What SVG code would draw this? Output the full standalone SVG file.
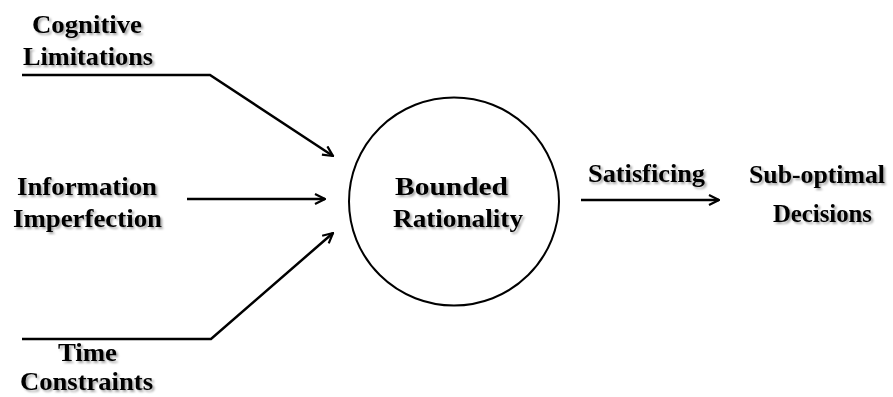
<svg xmlns="http://www.w3.org/2000/svg" width="893" height="397" viewBox="0 0 893 397">
<style>
.t{font-family:"Liberation Serif","Times New Roman",serif;font-weight:bold;font-size:26px;fill:#000;filter:url(#sh)}
.c{fill:none;stroke:#000;stroke-width:2.5}
</style>
<defs>
<filter id="sh" x="-10%" y="-30%" width="130%" height="180%">
<feDropShadow dx="2" dy="2" stdDeviation="1.2" flood-color="#000" flood-opacity="0.35"/>
</filter>
<marker id="ah" viewBox="0 0 12 12" refX="11" refY="6" markerWidth="12" markerHeight="12" markerUnits="userSpaceOnUse" orient="auto">
<path d="M1,1 L11,6 L1,11" fill="none" stroke="#000" stroke-width="2.2"/>
</marker>
</defs>
<rect width="893" height="397" fill="#fff"/>
<g id="connectors">
<path class="c" d="M22,75 L210,75 L333,156" marker-end="url(#ah)"/>
<path class="c" d="M187,199 L325,199" marker-end="url(#ah)"/>
<path class="c" d="M22,339 L211,339 L333,233" marker-end="url(#ah)"/>
<path class="c" d="M581,200 L719,200" marker-end="url(#ah)"/>
</g>
<g id="cognitive">
<text class="t" x="32" y="33" textLength="110" lengthAdjust="spacingAndGlyphs">Cognitive</text>
<text class="t" x="23" y="65" textLength="130" lengthAdjust="spacingAndGlyphs">Limitations</text>
</g>
<g id="information">
<text class="t" x="17" y="195" textLength="140" lengthAdjust="spacingAndGlyphs">Information</text>
<text class="t" x="13" y="227" textLength="149" lengthAdjust="spacingAndGlyphs">Imperfection</text>
</g>
<g id="time">
<text class="t" x="58" y="361" textLength="59" lengthAdjust="spacingAndGlyphs">Time</text>
<text class="t" x="20" y="390" textLength="133" lengthAdjust="spacingAndGlyphs">Constraints</text>
</g>
<g id="bounded">
<ellipse cx="454" cy="201.5" rx="105" ry="104" fill="none" stroke="#000" stroke-width="2"/>
<text class="t" x="395" y="195" textLength="113" lengthAdjust="spacingAndGlyphs">Bounded</text>
<text class="t" x="393" y="227" textLength="130" lengthAdjust="spacingAndGlyphs">Rationality</text>
</g>
<g id="satisficing">
<text class="t" x="588" y="182" textLength="117" lengthAdjust="spacingAndGlyphs">Satisficing</text>
</g>
<g id="decisions">
<text class="t" x="749" y="183" textLength="136" lengthAdjust="spacingAndGlyphs">Sub-optimal</text>
<text class="t" x="773" y="222" textLength="99" lengthAdjust="spacingAndGlyphs">Decisions</text>
</g>
</svg>
